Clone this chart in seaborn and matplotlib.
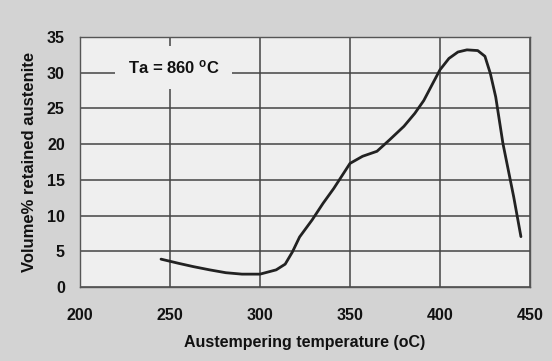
import matplotlib
matplotlib.use("Agg")
import matplotlib.pyplot as plt
import seaborn as sns
import pandas as pd

temperature = [245, 255, 263, 272, 281, 290, 300, 309, 314, 318, 322, 329, 335, 341,
               350, 357, 365, 372, 380, 386, 391, 396, 400, 405, 410, 415, 421, 425,
               428, 431, 435, 441, 445]
retained = [3.9, 3.3, 2.85, 2.4, 2.0, 1.8, 1.8, 2.4, 3.2, 4.9, 7.0, 9.4, 11.7, 13.8,
            17.3, 18.3, 19.0, 20.6, 22.5, 24.3, 26.1, 28.5, 30.4, 32.0, 32.9, 33.2, 33.1,
            32.3, 29.9, 26.6, 20.1, 12.6, 7.05]
x_ticks = [200, 250, 300, 350, 400, 450]
y_ticks = [0, 5, 10, 15, 20, 25, 30, 35]
annotation = "Ta = 860 $\\mathregular{^o}$C"

sns.set_theme(style="white")
plt.rcParams['font.family'] = ['Liberation Sans', 'DejaVu Sans']
plt.rcParams['font.weight'] = 'bold'

df = pd.DataFrame({"T": temperature, "V": retained})

fig = plt.figure(figsize=(5.52, 3.61), dpi=100, facecolor="#d3d3d3")
ax = fig.add_axes([0.145, 0.205, 0.815, 0.6925])
ax.set_facecolor("#efefef")

sns.lineplot(data=df, x="T", y="V", ax=ax, color="#222222", linewidth=2.0, sort=False, zorder=3)

ax.set_xlim(200, 450)
ax.set_ylim(0, 35)
ax.set_xticks(x_ticks)
ax.set_yticks(y_ticks)
ax.grid(True, color="#444444", linewidth=1.1)
ax.set_axisbelow(True)
for s in ax.spines.values():
    s.set_color("#555555")
    s.set_linewidth(1.0)
ax.tick_params(axis="both", direction="out", length=6, width=1.0, color="#444444",
               labelsize=11.5, labelcolor="#111111", pad=5)
ax.tick_params(axis="x", pad=9)
for lab in ax.get_xticklabels() + ax.get_yticklabels():
    lab.set_fontweight("bold")

ax.set_xlabel("Austempering temperature (oC)", fontsize=11.5, fontweight="bold", color="#111111", labelpad=9)
ax.set_ylabel("Volume% retained austenite", fontsize=12, fontweight="bold", color="#111111", labelpad=7)

ax.text(252, 30.7, annotation, ha="center", va="center", fontsize=12, fontweight="bold",
        color="#111111", zorder=4,
        bbox=dict(boxstyle="square,pad=0.75", facecolor="#efefef", edgecolor="none"))

fig.savefig("out.png", dpi=100, facecolor=fig.get_facecolor())
